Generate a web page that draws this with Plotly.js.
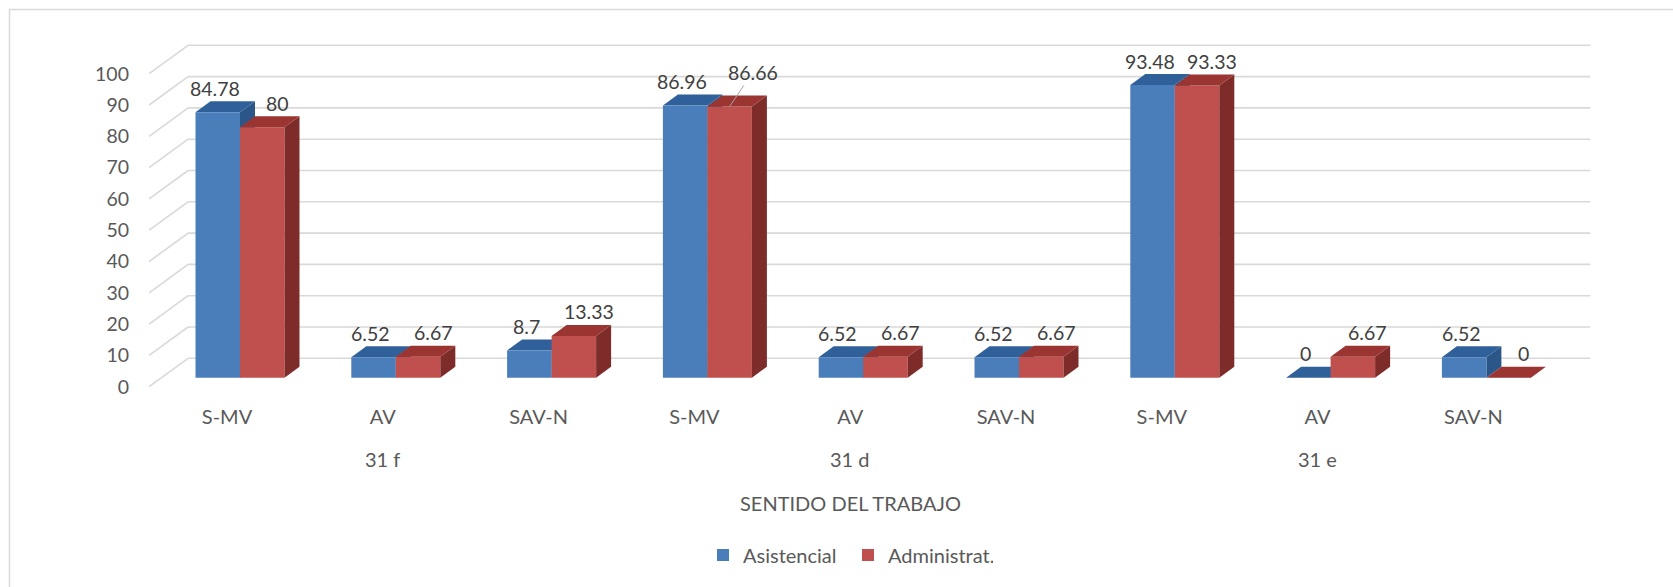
<!DOCTYPE html>
<html>
<head>
<meta charset="utf-8">
<script src="https://cdn.plot.ly/plotly-3.0.1.min.js"></script>
<style>
  html, body { margin: 0; padding: 0; background: #ffffff; }
  #chart { width: 1673px; height: 587px; }
</style>
</head>
<body>
<div id="chart"></div>
<script>
// ---------------- data ----------------
const categories = ['S-MV', 'AV', 'SAV-N', 'S-MV', 'AV', 'SAV-N', 'S-MV', 'AV', 'SAV-N'];
const groupNames = ['31 f', '31 d', '31 e'];
const groupOf = [0, 0, 0, 1, 1, 1, 2, 2, 2];
const asistencial = [84.78, 6.52, 8.7, 86.96, 6.52, 6.52, 93.48, 0, 6.52];
const administrat = [80, 6.67, 13.33, 86.66, 6.67, 6.67, 93.33, 6.67, 0];
const seriesNames = ['Asistencial', 'Administrat.'];
const yTicks = [0, 10, 20, 30, 40, 50, 60, 70, 80, 90, 100];
const axisTitle = 'SENTIDO DEL TRABAJO';

// ---------------- geometry / style ----------------
const W = 1673, H = 587;
const PLOT_L = 140, PLOT_R = 1600, PLOT_T = 35, PLOT_B = 395;
const CAT0_PX = 240, CAT_PX = 155.8;     // first category centre, spacing (bar front plane)
const ZERO_PX = 377.7, UNIT_PX = 3.13;   // y of value 0 on the bar front plane, px per unit
const BAR_PX = 44.5;                      // width of one bar
const DEPTH = { dx: 15, dy: 11 };         // bar depth projection (px)
const WALL = { dx: 26, dy: 19.4 };        // back wall relative to bar front plane
const FRONT = { dx: -13, dy: -9 };        // floor front edge relative to bar front plane
const FONT = 'Lato, "Open Sans", sans-serif';
const TXT = '#595959';
const GRID = '#D9D9D9';
const COLORS = [
  { front: '#4A7EBB', top: '#30609A', side: '#2B5788' },
  { front: '#C0504D', top: '#9A3532', side: '#7E2C2A' }
];

const x0 = -(CAT0_PX - PLOT_L) / CAT_PX;
const x1 = x0 + (PLOT_R - PLOT_L) / CAT_PX;
const y0 = -(PLOT_B - ZERO_PX) / UNIT_PX;
const y1 = (ZERO_PX - PLOT_T) / UNIT_PX;
const dxU = px => px / CAT_PX;
const dyU = px => px / UNIT_PX;
const pxToPaperX = px => (px - PLOT_L) / (PLOT_R - PLOT_L);
const pxToPaperY = px => (PLOT_B - px) / (PLOT_B - PLOT_T);

const idx = categories.map((_, i) => i);
const BW = BAR_PX / CAT_PX;
const series = [asistencial, administrat];
const offsets = [-BW, 0];

// ---------------- traces (front faces) ----------------
const traces = series.map((vals, s) => ({
  type: 'bar',
  name: seriesNames[s],
  x: idx,
  y: vals,
  width: BW,
  offset: offsets[s],
  marker: { color: COLORS[s].front, line: { width: 0 } },
  hoverinfo: 'name+y'
}));

// ---------------- shapes ----------------
const shapes = [];
const P = (x, y) => x.toFixed(5) + ',' + y.toFixed(5);

// outer chart border
shapes.push({
  type: 'rect', xref: 'paper', yref: 'paper', layer: 'below',
  x0: pxToPaperX(9.5), x1: pxToPaperX(W + 20),
  y0: pxToPaperY(H + 20), y1: pxToPaperY(9.5),
  line: { color: GRID, width: 1.5 }, fillcolor: 'rgba(0,0,0,0)'
});

// back wall gridlines + side diagonals
const xLeft = -0.5, xRight = categories.length - 0.5;
yTicks.forEach(v => {
  shapes.push({
    type: 'line', xref: 'x', yref: 'y', layer: 'below',
    x0: xLeft + dxU(WALL.dx), x1: xRight + dxU(WALL.dx),
    y0: v + dyU(WALL.dy), y1: v + dyU(WALL.dy),
    line: { color: GRID, width: 1.6 }
  });
  shapes.push({
    type: 'line', xref: 'x', yref: 'y', layer: 'below',
    x0: xLeft + dxU(FRONT.dx), x1: xLeft + dxU(WALL.dx),
    y0: v + dyU(FRONT.dy), y1: v + dyU(WALL.dy),
    line: { color: GRID, width: 1.6 }
  });
});

// 3D top and side faces
const ddx = dxU(DEPTH.dx), ddy = dyU(DEPTH.dy);
series.forEach((vals, s) => {
  const layer = s === 0 ? 'below' : 'above';
  vals.forEach((v, i) => {
    const xl = i + offsets[s], xr = xl + BW;
    shapes.push({
      type: 'path', xref: 'x', yref: 'y', layer,
      path: 'M' + P(xr, 0) + 'L' + P(xr, v) + 'L' + P(xr + ddx, v + ddy) + 'L' + P(xr + ddx, ddy) + 'Z',
      fillcolor: COLORS[s].side, line: { width: 0 }
    });
    shapes.push({
      type: 'path', xref: 'x', yref: 'y', layer,
      path: 'M' + P(xl, v) + 'L' + P(xr, v) + 'L' + P(xr + ddx, v + ddy) + 'L' + P(xl + ddx, v + ddy) + 'Z',
      fillcolor: COLORS[s].top, line: { width: 0 }
    });
  });
});

// ---------------- annotations ----------------
const annotations = [];
const labelShift = [{ x: -3, y: 24 }, { x: 15, y: 24 }];
const leader = { s: 1, i: 3, ax: 23, ay: -34 };  // manually moved label with leader line
series.forEach((vals, s) => {
  vals.forEach((v, i) => {
    const xc = i + offsets[s] + BW / 2;
    const base = {
      xref: 'x', yref: 'y', x: xc, y: v, text: String(v),
      font: { family: FONT, size: 19.5, color: '#404040' }
    };
    if (s === leader.s && i === leader.i) {
      annotations.push(Object.assign(base, {
        showarrow: true, arrowhead: 0, arrowwidth: 1, arrowcolor: '#A6A6A6',
        ax: leader.ax, ay: leader.ay, standoff: 0
      }));
    } else {
      annotations.push(Object.assign(base, {
        showarrow: false, xshift: labelShift[s].x, yshift: labelShift[s].y,
        xanchor: 'center', yanchor: 'middle'
      }));
    }
  });
});

// group labels (centred under each group)
groupNames.forEach((g, gi) => {
  const members = idx.filter(i => groupOf[i] === gi);
  const mid = members.reduce((a, b) => a + b, 0) / members.length;
  annotations.push({
    xref: 'x', yref: 'paper', x: mid, y: pxToPaperY(459), xshift: FRONT.dx,
    text: g, showarrow: false, xanchor: 'center', yanchor: 'middle',
    font: { family: FONT, size: 20, color: TXT }
  });
});

// axis title
annotations.push({
  xref: 'x', yref: 'paper', x: (categories.length - 1) / 2, y: pxToPaperY(503), xshift: FRONT.dx,
  text: axisTitle, showarrow: false, xanchor: 'center', yanchor: 'middle',
  font: { family: FONT, size: 20, color: TXT }
});

const layout = {
  width: W, height: H, autosize: false,
  margin: { l: PLOT_L, r: W - PLOT_R, t: PLOT_T, b: H - PLOT_B, pad: 0 },
  paper_bgcolor: '#ffffff', plot_bgcolor: 'rgba(0,0,0,0)',
  barmode: 'overlay',
  font: { family: FONT, color: TXT },
  xaxis: {
    range: [x0, x1], tickmode: 'array', tickvals: idx, ticktext: categories,
    showgrid: false, zeroline: false, showline: false, ticks: '',
    ticklabelshift: FRONT.dx, ticklabelstandoff: 8,
    tickfont: { family: FONT, size: 20, color: TXT }, fixedrange: true
  },
  yaxis: {
    range: [y0, y1], tickmode: 'array', tickvals: yTicks,
    showgrid: false, zeroline: false, showline: false, ticks: '',
    ticklabelshift: -FRONT.dy, ticklabelstandoff: 10,
    tickfont: { family: FONT, size: 19.5, color: TXT }, fixedrange: true
  },
  showlegend: true,
  legend: {
    orientation: 'h', x: pxToPaperX(703), xanchor: 'left',
    y: pxToPaperY(555), yanchor: 'middle',
    entrywidth: 100, entrywidthmode: 'pixels',
    font: { family: FONT, size: 20, color: TXT },
    bgcolor: 'rgba(0,0,0,0)', traceorder: 'normal'
  },
  shapes, annotations
};

Plotly.newPlot('chart', traces, layout, { displayModeBar: false, staticPlot: true });
</script>
</body>
</html>
